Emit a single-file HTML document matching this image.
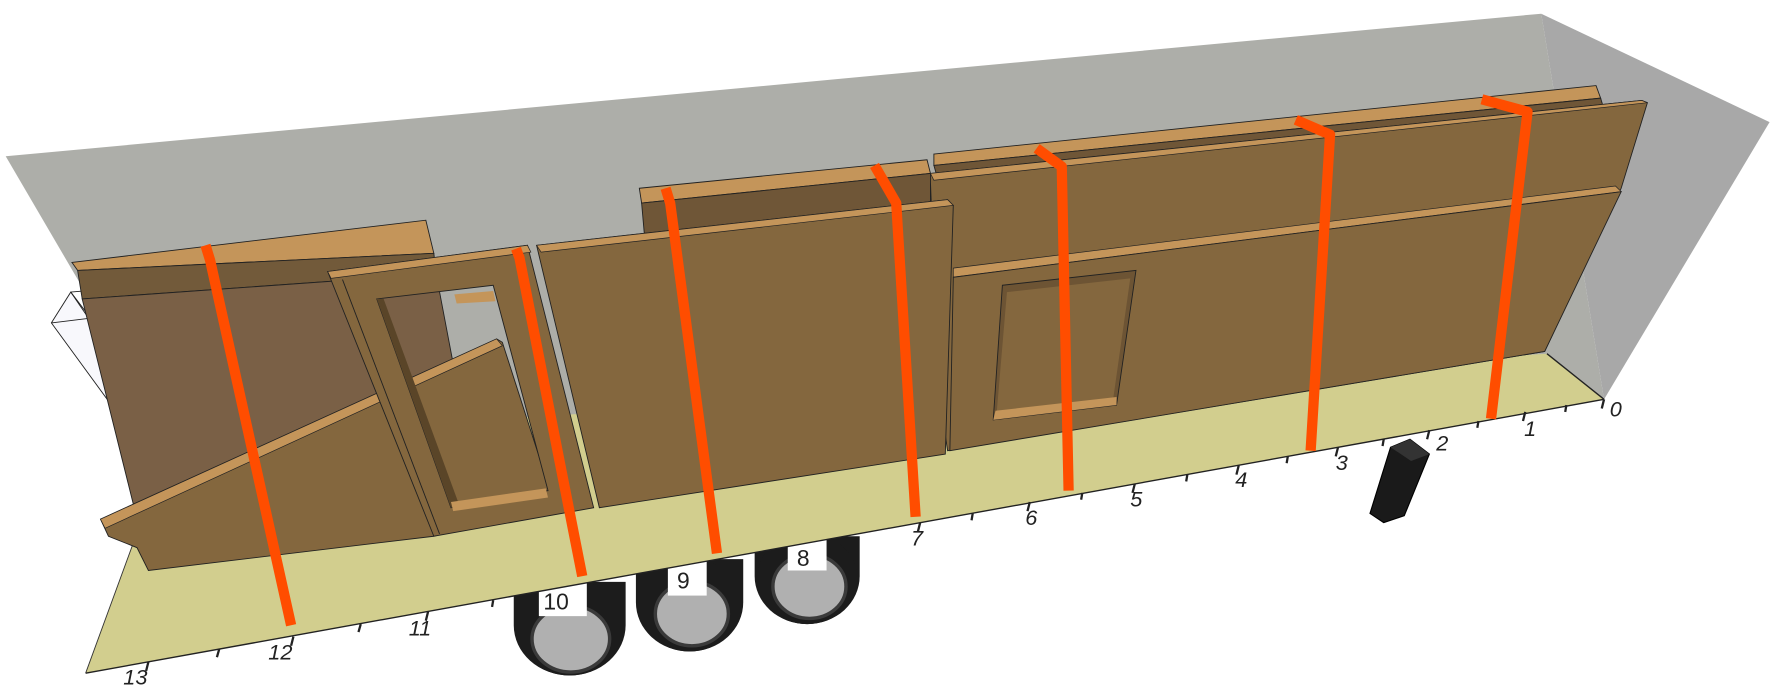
<!DOCTYPE html>
<html><head><meta charset="utf-8"><style>
html,body{margin:0;padding:0;background:#fff;}
svg{display:block;}
text{font-family:"Liberation Sans",sans-serif;font-style:italic;font-size:19px;fill:#222;}
.n{font-style:normal;font-size:20px;}
</style></head><body>
<svg width="1781" height="688" viewBox="0 0 1560 603" preserveAspectRatio="none" xmlns="http://www.w3.org/2000/svg">
<g>
<path d="M661,470 L753,470 L753,505 A46,42 0 0 1 661,505 Z" fill="#1c1c1c"/>
<ellipse cx="707" cy="507" rx="44" ry="40" fill="#1c1c1c"/>
<ellipse cx="709" cy="514" rx="32" ry="28" fill="#b0b0b0" stroke="#3a3a3a" stroke-width="3"/>
<rect x="690" y="468" width="34" height="32" fill="#fff"/>
<text class="n" x="698" y="496">8</text>
<path d="M557,490 L651,490 L651,528 A47,43 0 0 1 557,528 Z" fill="#1c1c1c"/>
<ellipse cx="604" cy="530" rx="45" ry="41" fill="#1c1c1c"/>
<ellipse cx="606" cy="538" rx="32" ry="28" fill="#b0b0b0" stroke="#3a3a3a" stroke-width="3"/>
<rect x="585" y="490" width="34" height="32" fill="#fff"/>
<text class="n" x="593" y="516">9</text>
<path d="M450,510 L548,510 L548,548 A49,44 0 0 1 450,548 Z" fill="#1c1c1c"/>
<ellipse cx="499" cy="550" rx="47" ry="42" fill="#1c1c1c"/>
<ellipse cx="500" cy="560" rx="34" ry="29" fill="#b0b0b0" stroke="#3a3a3a" stroke-width="3"/>
<rect x="472" y="508" width="42" height="32" fill="#fff"/>
<text class="n" x="476" y="534">10</text>
</g>
<polygon points="5,137 1350,12 1405,350 150,385" fill="#adaea9"/>
<polygon points="1350,12 1550,107 1405,350" fill="#a8a8a8"/>
<polygon points="150,385 1355,310 1405,350 75,590" fill="#d2ce8e"/>
<line x1="75" y1="590" x2="1405" y2="350" stroke="#222" stroke-width="1.2"/>
<line x1="75" y1="590" x2="150" y2="385" stroke="#333" stroke-width="0.8"/>
<line x1="1355" y1="310" x2="1405" y2="350" stroke="#222" stroke-width="1.2"/>
<polygon points="45,283 62,256 160,385 145,420" fill="#f8f8fc" stroke="#222" stroke-width="0.8"/>
<line x1="62" y1="256" x2="300" y2="236" stroke="#222" stroke-width="0.8"/>
<line x1="45" y1="283" x2="300" y2="252" stroke="#222" stroke-width="0.8"/>
<line x1="62" y1="256" x2="160" y2="400" stroke="#222" stroke-width="0.8"/>
<polygon points="63,230 373,193 380,222 68,237" fill="#c4955a" stroke="#222" stroke-width="0.8"/>
<polygon points="68,237 380,222 382,240 72,262" fill="#725a3a" stroke="#222" stroke-width="0.8"/>
<polygon points="72,262 382,240 420,440 130,495" fill="#7a6046" stroke="#222" stroke-width="0.8"/>
<polygon points="560,165 812,140 815,152 562,178" fill="#c4955a" stroke="#222" stroke-width="0.8"/>
<polygon points="562,178 815,152 815,180 565,212" fill="#6f5637" stroke="#222" stroke-width="0.8"/>
<polygon points="818,135 1398,75 1402,86 818,145" fill="#c4955a" stroke="#222" stroke-width="0.8"/>
<polygon points="818,145 1402,86 1405,96 820,152" fill="#6f5637" stroke="#222" stroke-width="0.8"/>
<polygon points="815,152 1438,88 1443,90 1420,165 1353,308 830,395 822,340 815,160" fill="#84673e" stroke="#222" stroke-width="0.8"/>
<polygon points="815,152 1438,88 1443,90 818,158" fill="#c4955a" stroke="#222" stroke-width="0.6"/>
<polygon points="835,235 1415,163 1420,168 835,243" fill="#c4955a" stroke="#222" stroke-width="0.6"/>
<polygon points="835,243 1420,168 1353,308 832,395" fill="#84673e" stroke="#222" stroke-width="0.8"/>
<polygon points="878,250 995,237 978,355 870,368" fill="#6d5434" stroke="#222" stroke-width="0.8"/>
<polygon points="882,256 990,244 975,350 873,362" fill="#84673e"/>
<polygon points="870,368 978,355 978,348 872,360" fill="#c4955a"/>
<polygon points="470,215 830,175 835,180 828,398 525,445" fill="#84673e" stroke="#222" stroke-width="0.8"/>
<polygon points="470,215 830,175 835,180 474,221" fill="#c4955a" stroke="#222" stroke-width="0.6"/>
<polygon points="88,455 435,297 440,300 485,440 380,470 130,500 120,480 95,470" fill="#84673e" stroke="#222" stroke-width="0.8"/>
<polygon points="88,455 435,297 440,303 92,463" fill="#c4955a" stroke="#222" stroke-width="0.6"/>
<path fill-rule="evenodd" d="M287,238 L462,215 L520,445 L380,470 Z M330,262 L432,250 L480,430 L395,445 Z" fill="#84673e" stroke="#222" stroke-width="0.8"/>
<polygon points="287,238 462,215 465,221 290,244" fill="#c4955a" stroke="#222" stroke-width="0.6"/>
<line x1="300" y1="245" x2="385" y2="468" stroke="#222" stroke-width="0.8"/>
<polygon points="330,262 336,262 402,442 395,445" fill="#5a4528"/>
<polygon points="395,440 478,428 480,436 397,448" fill="#c4955a"/>
<polygon points="398,258 432,255 434,264 400,266" fill="#c4955a"/>
<g stroke="#ff4d00" stroke-width="9" fill="none" stroke-linejoin="round">
<polyline points="180,215 184,228 255,548"/>
<polyline points="452,218 455,226 510,505"/>
<polyline points="583,165 587,178 628,485"/>
<polyline points="766,145 785,178 802,453"/>
<polyline points="908,130 930,146 936,430"/>
<polyline points="1135,105 1165,118 1148,395"/>
<polyline points="1298,87 1338,98 1306,367"/>
</g>
<g stroke="#222" stroke-width="2">
<line x1="130" y1="580" x2="128" y2="588"/><line x1="192" y1="569" x2="190" y2="576"/>
<line x1="257" y1="558" x2="255" y2="566"/><line x1="316" y1="547" x2="314" y2="554"/>
<line x1="375" y1="536" x2="373" y2="544"/><line x1="432" y1="526" x2="431" y2="532"/>
<line x1="806" y1="458" x2="804" y2="466"/><line x1="852" y1="450" x2="851" y2="456"/>
<line x1="902" y1="440" x2="900" y2="448"/><line x1="948" y1="432" x2="947" y2="438"/>
<line x1="994" y1="424" x2="992" y2="432"/><line x1="1040" y1="416" x2="1039" y2="422"/>
<line x1="1085" y1="408" x2="1083" y2="416"/><line x1="1128" y1="400" x2="1127" y2="406"/>
<line x1="1172" y1="392" x2="1170" y2="400"/><line x1="1212" y1="385" x2="1211" y2="391"/>
<line x1="1252" y1="377" x2="1250" y2="385"/><line x1="1295" y1="369" x2="1294" y2="375"/>
<line x1="1336" y1="361" x2="1334" y2="369"/><line x1="1372" y1="355" x2="1371" y2="361"/>
<line x1="1405" y1="350" x2="1403" y2="358"/>
</g>
<text x="108" y="600">13</text><text x="235" y="578">12</text><text x="358" y="557">11</text>
<text x="798" y="478">7</text><text x="898" y="460">6</text><text x="990" y="444">5</text>
<text x="1082" y="427">4</text><text x="1170" y="412">3</text><text x="1258" y="395">2</text>
<text x="1335" y="382">1</text><text x="1410" y="365">0</text>
<polygon points="1200,450 1218,392 1235,385 1252,398 1230,452 1212,458" fill="#1a1a1a" stroke="#000"/>
<polygon points="1218,392 1235,385 1252,398 1236,404" fill="#333"/>
</svg>
</body></html>
